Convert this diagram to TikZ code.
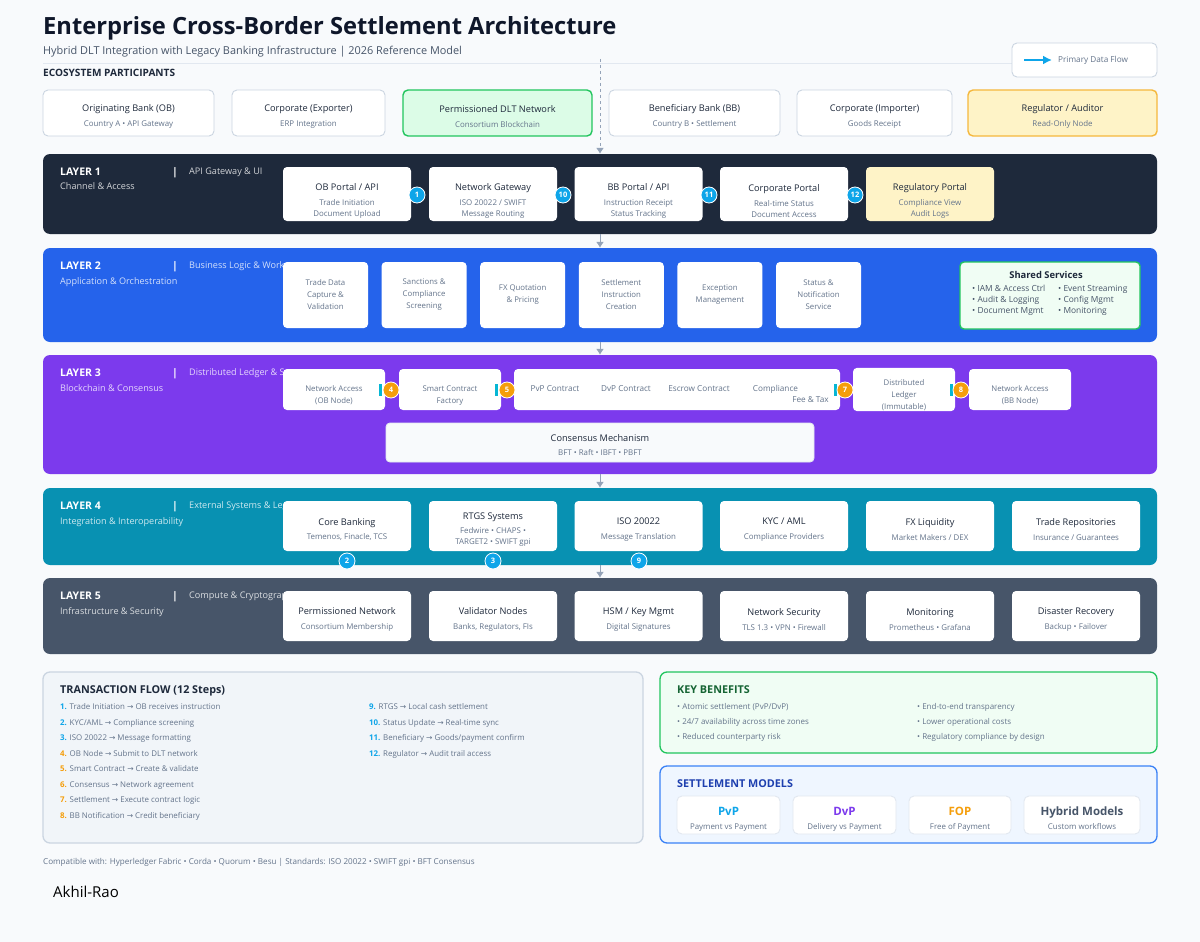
\documentclass[tikz,border=0pt]{standalone}
\usepackage{fontspec}
\setmainfont{Open Sans}
\newfontfamily\arrowfont{DejaVu Sans}
\usetikzlibrary{arrows.meta}

\definecolor{ink}{HTML}{1E293B}
\definecolor{titleink}{HTML}{0F172A}
\definecolor{muted}{HTML}{64748B}
\definecolor{subtle}{HTML}{475569}
\definecolor{pagebg}{HTML}{F8FAFC}
\definecolor{edge}{HTML}{CBD5E1}
\definecolor{edgelight}{HTML}{E2E8F0}
\definecolor{panelfill}{HTML}{F1F5F9}
\definecolor{layerone}{HTML}{1E293B}
\definecolor{layertwo}{HTML}{2563EB}
\definecolor{layerthree}{HTML}{7C3AED}
\definecolor{layerfour}{HTML}{0891B2}
\definecolor{layerfive}{HTML}{475569}
\definecolor{stepblue}{HTML}{0EA5E9}
\definecolor{steporange}{HTML}{F59E0B}
\definecolor{stepcyan}{HTML}{06B6D4}
\definecolor{greenfill}{HTML}{DCFCE7}
\definecolor{greenpale}{HTML}{F0FDF4}
\definecolor{greenedge}{HTML}{22C55E}
\definecolor{greenink}{HTML}{166534}
\definecolor{yellowfill}{HTML}{FEF3C7}
\definecolor{yellowedge}{HTML}{F5B83D}
\definecolor{bluepale}{HTML}{EFF6FF}
\definecolor{blueedge}{HTML}{3B82F6}
\definecolor{blueink}{HTML}{1E40AF}
\definecolor{flowgray}{HTML}{94A3B8}

\tikzstyle{box:participant}=[draw=edge,fill=white,rounded corners=5pt,line width=0.9pt,minimum height=46pt,inner sep=0pt,align=flush center]
\tikzstyle{box:layer}=[rounded corners=7pt,minimum width=1114pt,inner sep=0pt]
\tikzstyle{box:component}=[fill=white,rounded corners=4pt,inner sep=0pt,align=flush center]
\tikzstyle{box:portal}=[box:component,text width=128pt,minimum height=54pt]
\tikzstyle{box:service}=[box:component,text width=85pt,minimum height=66pt]
\tikzstyle{box:ledger}=[box:component,text width=102pt,minimum height=41pt]
\tikzstyle{box:system}=[box:component,text width=128pt,minimum height=50pt]
\tikzstyle{box:model}=[draw=edgelight,fill=white,rounded corners=5pt,line width=0.9pt,minimum height=38pt,inner sep=0pt,align=flush center]
\tikzstyle{box:panel}=[rounded corners=7pt,line width=1.3pt,inner sep=0pt]
\tikzstyle{badge:blue}=[circle,fill=stepblue,draw=white,line width=0.8pt,text=white,minimum size=16pt,inner sep=0pt,font=\fontsize{7.5}{8}\selectfont\bfseries]
\tikzstyle{badge:orange}=[badge:blue,fill=steporange]
\tikzstyle{text:layer}=[anchor=base west,inner sep=0pt,text=white,font=\fontsize{10.5}{12}\selectfont\bfseries]
\tikzstyle{text:layersub}=[anchor=base west,inner sep=0pt,text=white,text opacity=0.8,font=\fontsize{9.1}{10}\selectfont]
\tikzstyle{text:bar}=[anchor=base west,inner sep=0pt,text=white,font=\fontsize{10.5}{12}\selectfont\bfseries]
\tikzstyle{text:contract}=[text=muted,font=\fontsize{8.2}{9}\selectfont]
\tikzstyle{text:paneltitle}=[anchor=base west,inner sep=0pt,font=\fontsize{10.8}{12}\selectfont\bfseries]
\tikzstyle{text:list}=[anchor=north west,align=left,inner sep=0pt,text=muted,font=\fontsize{7.9}{15.5}\selectfont]
\tikzstyle{draw:flow}=[-{Latex[length=6pt,width=8pt]},flowgray,line width=1pt]

\newcommand{\hd}[2][14pt]{{\fontsize{9.2}{11}\selectfont\color{ink}\rule{0pt}{#1}#2\par}\vspace{3.5pt}}
\newcommand{\sm}[1]{{\fontsize{7.9}{11}\selectfont\color{muted}#1\par}}
\newcommand{\tx}[2][0pt]{{\fontsize{7.8}{12}\selectfont\color{muted}\rule{0pt}{#1}#2\par}}
\newcommand{\mh}[2]{{\fontsize{11.5}{13}\selectfont\bfseries\color{#1}\rule{0pt}{16pt}#2\par}\vspace{3pt}}
\newcommand{\stepb}[1]{\textcolor{stepblue}{\bfseries #1.}}
\newcommand{\stepo}[1]{\textcolor{steporange}{\bfseries #1.}}
\newcommand{\flowto}{{\arrowfont\fontsize{7.6}{8}\selectfont →}}

\begin{document}
\begin{tikzpicture}[x=1pt,y=-1pt]
        \fill[pagebg] (0,0) rectangle (1200,942);
        \useasboundingbox (0,0) rectangle (1200,942);

        % Header
        \node[anchor=base west,inner sep=0pt,text=titleink,font=\fontsize{23.7}{26}\selectfont\bfseries] (title) at (43,35) {Enterprise Cross-Border Settlement Architecture};
        \node[anchor=base west,inner sep=0pt,text=subtle,font=\fontsize{10.9}{12}\selectfont] (subtitle) at (43,55) {Hybrid DLT Integration with Legacy Banking Infrastructure | 2026 Reference Model};
        \draw[edgelight,line width=1pt] (43,64) -- (1157,64);
        \node[anchor=base west,inner sep=0pt,text=ink,font=\fontsize{10.1}{11}\selectfont\bfseries] (ecosystem) at (43,77) {ECOSYSTEM PARTICIPANTS};

        % Legend
        \node[draw=edge,fill=white,rounded corners=5pt,line width=0.9pt,minimum width=145pt,minimum height=34pt] (legend) at (1084.5,60) {};
        \coordinate (legend-a) at (1024,60);
        \coordinate (legend-b) at (1052,60);
        \draw[-{Latex[length=9pt,width=9pt]},stepblue,line width=2pt] (legend-a) -- (legend-b);
        \node[anchor=west,inner sep=0pt,text=muted,font=\fontsize{8.2}{9}\selectfont] (legend-text) at (1058,60) {Primary Data Flow};

        % Ecosystem participants (6 nodes)
        \node[box:participant,text width=171pt] (P-1) at (128.5,113) {\hd{Originating Bank (OB)}\sm{Country A • API Gateway}};
        \node[box:participant,text width=153pt] (P-2) at (308.5,113) {\hd{Corporate (Exporter)}\sm{ERP Integration}};
        \node[box:participant,text width=189pt,fill=greenfill,draw=greenedge,line width=1.4pt] (P-3) at (497.5,113) {\hd{Permissioned DLT Network}\sm{Consortium Blockchain}};
        \node[box:participant,text width=171pt] (P-4) at (694.5,113) {\hd{Beneficiary Bank (BB)}\sm{Country B • Settlement}};
        \node[box:participant,text width=155pt] (P-5) at (874.5,113) {\hd{Corporate (Importer)}\sm{Goods Receipt}};
        \node[box:participant,text width=189pt,fill=yellowfill,draw=yellowedge,line width=1.4pt] (P-6) at (1062.5,113) {\hd{Regulator / Auditor}\sm{Read-Only Node}};

        % Layer bands
        \node[box:layer,fill=layerone,minimum height=80pt] (L1) at (600,194) {};
        \node[box:layer,fill=layertwo,minimum height=94pt] (L2) at (600,295) {};
        \node[box:layer,fill=layerthree,minimum height=119pt] (L3) at (600,414.5) {};
        \node[box:layer,fill=layerfour,minimum height=77pt] (L4) at (600,526.5) {};
        \node[box:layer,fill=layerfive,minimum height=76pt] (L5) at (600,616) {};

        % Layer labels
        \node[text:layer] (L1-title) at (60,175) {LAYER 1};
        \node[text:layersub] (L1-sub) at (60,189.5) {Channel \& Access};
        \node[text:bar] (L1-bar) at (172,175) {|};
        \node[text:layersub] (L1-cat) at (189,174.5) {API Gateway \& UI};

        \node[text:layer] (L2-title) at (60,269) {LAYER 2};
        \node[text:layersub] (L2-sub) at (60,284.5) {Application \& Orchestration};
        \node[text:bar] (L2-bar) at (172,269) {|};

        \node[text:layer] (L3-title) at (60,376) {LAYER 3};
        \node[text:layersub] (L3-sub) at (60,391.5) {Blockchain \& Consensus};
        \node[text:bar] (L3-bar) at (172,376) {|};

        \node[text:layer] (L4-title) at (60,509) {LAYER 4};
        \node[text:layersub] (L4-sub) at (60,524.5) {Integration \& Interoperability};
        \node[text:bar] (L4-bar) at (172,509) {|};

        \node[text:layer] (L5-title) at (60,599) {LAYER 5};
        \node[text:layersub] (L5-sub) at (60,614.5) {Infrastructure \& Security};
        \node[text:bar] (L5-bar) at (172,599) {|};

        % Layer categories, cut off by the first component
        \begin{scope}
                \clip (185,240) rectangle (283,660);
                \node[text:layersub] (L2-cat) at (189,268.5) {Business Logic \& Workflow};
                \node[text:layersub] (L3-cat) at (189,375.5) {Distributed Ledger \& Smart Contracts};
                \node[text:layersub] (L4-cat) at (189,508.5) {External Systems \& Legacy};
                \node[text:layersub] (L5-cat) at (189,598.5) {Compute \& Cryptography};
        \end{scope}

        % Layer 1 components (5 nodes)
        \node[box:portal] (L1-1) at (347,194) {\hd[21pt]{OB Portal / API}\sm{Trade Initiation\\Document Upload}};
        \node[box:portal] (L1-2) at (493,194) {\hd[21pt]{Network Gateway}\sm{ISO 20022 / SWIFT\\Message Routing}};
        \node[box:portal] (L1-3) at (638.5,194) {\hd[21pt]{BB Portal / API}\sm{Instruction Receipt\\Status Tracking}};
        \node[box:portal] (L1-4) at (784,194) {\hd[21pt]{Corporate Portal}\sm{Real-time Status\\Document Access}};
        \node[box:portal,fill=yellowfill] (L1-5) at (930,194) {\hd[21pt]{Regulatory Portal}\sm{Compliance View\\Audit Logs}};

        % Layer 2 components (6 nodes + shared services)
        \node[box:service] (L2-1) at (325.5,295) {\tx{Trade Data\\Capture \&\\Validation}};
        \node[box:service] (L2-2) at (424.1,295) {\tx{Sanctions \&\\Compliance\\Screening}};
        \node[box:service] (L2-3) at (522.7,295) {\tx{FX Quotation\\\& Pricing}};
        \node[box:service] (L2-4) at (621.3,295) {\tx{Settlement\\Instruction\\Creation}};
        \node[box:service] (L2-5) at (719.9,295) {\tx{Exception\\Management}};
        \node[box:service] (L2-6) at (818.5,295) {\tx{Status \&\\Notification\\Service}};
        \node[box:component,draw=greenedge,fill=greenpale,line width=1.4pt,minimum width=180pt,minimum height=67pt] (L2-7) at (1050,295.5) {};
        \node[text=ink,font=\fontsize{9.4}{10}\selectfont\bfseries] (L2-7-title) at (1046,275) {Shared Services};
        \node[text:list,text=subtle,font=\fontsize{8.4}{11}\selectfont] (L2-7-left) at (972,285) {• IAM \& Access Ctrl\\• Audit \& Logging\\• Document Mgmt};
        \node[text:list,text=subtle,font=\fontsize{8.4}{11}\selectfont] (L2-7-right) at (1058,285) {• Event Streaming\\• Config Mgmt\\• Monitoring};

        % Layer 3 components
        \node[box:ledger] (L3-1) at (334,389.5) {\tx[18pt]{Network Access\\(OB Node)}};
        \node[box:ledger] (L3-2) at (450,389.5) {\tx[18pt]{Smart Contract\\Factory}};
        \node[box:component,minimum width=326pt,minimum height=41pt] (L3-3) at (677,389.5) {};
        \node[text:contract] (L3-3-pvp) at (555,389) {PvP Contract};
        \node[text:contract] (L3-3-dvp) at (626,389) {DvP Contract};
        \node[text:contract] (L3-3-escrow) at (699,389) {Escrow Contract};
        \node[text:contract] (L3-3-compliance) at (775.5,389) {Compliance};
        \node[text:contract] (L3-3-fee) at (810.5,400) {Fee \& Tax};
        \node[box:ledger] (L3-4) at (904,389.5) {\tx[18pt]{Distributed\\Ledger\\(Immutable)}};
        \node[box:ledger] (L3-5) at (1020,389.5) {\tx[18pt]{Network Access\\(BB Node)}};
        \node[box:component,draw=edgelight,fill=pagebg,line width=0.9pt,text width=428pt,minimum height=39pt] (L3-6) at (600,442.5) {\hd[12pt]{Consensus Mechanism}\sm{BFT • Raft • IBFT • PBFT}};
        \foreach \x in {380,496,835,951}
                \fill[stepcyan] (\x-1.5,384) rectangle (\x+1.5,396);

        % Layer 4 components (6 nodes)
        \node[box:system] (L4-1) at (347,526) {\hd{Core Banking}\sm{Temenos, Finacle, TCS}};
        \node[box:system] (L4-2) at (493,526) {\hd{RTGS Systems}\sm{Fedwire • CHAPS •\\TARGET2 • SWIFT gpi}};
        \node[box:system] (L4-3) at (638.5,526) {\hd{ISO 20022}\sm{Message Translation}};
        \node[box:system] (L4-4) at (784,526) {\hd{KYC / AML}\sm{Compliance Providers}};
        \node[box:system] (L4-5) at (930,526) {\hd{FX Liquidity}\sm{Market Makers / DEX}};
        \node[box:system] (L4-6) at (1076,526) {\hd{Trade Repositories}\sm{Insurance / Guarantees}};

        % Layer 5 components (6 nodes)
        \node[box:system] (L5-1) at (347,616) {\hd{Permissioned Network}\sm{Consortium Membership}};
        \node[box:system] (L5-2) at (493,616) {\hd{Validator Nodes}\sm{Banks, Regulators, FIs}};
        \node[box:system] (L5-3) at (638.5,616) {\hd{HSM / Key Mgmt}\sm{Digital Signatures}};
        \node[box:system] (L5-4) at (784,616) {\hd{Network Security}\sm{TLS 1.3 • VPN • Firewall}};
        \node[box:system] (L5-5) at (930,616) {\hd{Monitoring}\sm{Prometheus • Grafana}};
        \node[box:system] (L5-6) at (1076,616) {\hd{Disaster Recovery}\sm{Backup • Failover}};

        % Step badges
        \node[badge:blue] (S1) at (417,195) {1};
        \node[badge:blue] (S2) at (347,561) {2};
        \node[badge:blue] (S3) at (493,561) {3};
        \node[badge:orange] (S4) at (391,390) {4};
        \node[badge:orange] (S5) at (507,390) {5};
        \node[badge:orange] (S7) at (845,390) {7};
        \node[badge:orange] (S8) at (961,390) {8};
        \node[badge:blue] (S9) at (639,561) {9};
        \node[badge:blue] (S10) at (563,195) {10};
        \node[badge:blue] (S11) at (709,195) {11};
        \node[badge:blue] (S12) at (855,195) {12};

        % Primary data flow
        \coordinate (dlt-top) at (600,59);
        \draw[draw:flow,dashed] (dlt-top) -- (L1.north);
        \foreach \i/\j in {1/2,2/3,3/4,4/5}
                \draw[draw:flow] (L\i.south) -- (L\j.north);

        % Transaction flow panel
        \node[box:panel,draw=edge,fill=panelfill,minimum width=600pt,minimum height=171pt] (flow) at (343,757.5) {};
        \node[text:paneltitle,text=ink] (flow-title) at (60,693) {TRANSACTION FLOW (12 Steps)};
        \node[text:list] (flow-left) at (60,703.5) {\stepb{1} Trade Initiation \flowto{} OB receives instruction\\
                \stepb{2} KYC/AML \flowto{} Compliance screening\\
                \stepb{3} ISO 20022 \flowto{} Message formatting\\
                \stepo{4} OB Node \flowto{} Submit to DLT network\\
                \stepo{5} Smart Contract \flowto{} Create \& validate\\
                \stepo{6} Consensus \flowto{} Network agreement\\
                \stepo{7} Settlement \flowto{} Execute contract logic\\
                \stepo{8} BB Notification \flowto{} Credit beneficiary};
        \node[text:list] (flow-right) at (369,703.5) {\stepb{9} RTGS \flowto{} Local cash settlement\\
                \stepb{10} Status Update \flowto{} Real-time sync\\
                \stepb{11} Beneficiary \flowto{} Goods/payment confirm\\
                \stepb{12} Regulator \flowto{} Audit trail access};

        % Key benefits panel
        \node[box:panel,draw=greenedge,fill=greenpale,minimum width=497pt,minimum height=81pt] (benefits) at (908.5,712.5) {};
        \node[text:paneltitle,text=greenink] (benefits-title) at (677,693) {KEY BENEFITS};
        \node[text:list,font=\fontsize{8}{15}\selectfont] (benefits-left) at (677,703.5) {• Atomic settlement (PvP/DvP)\\• 24/7 availability across time zones\\• Reduced counterparty risk};
        \node[text:list,font=\fontsize{8}{15}\selectfont] (benefits-right) at (917,703.5) {• End-to-end transparency\\• Lower operational costs\\• Regulatory compliance by design};

        % Settlement models panel
        \node[box:panel,draw=blueedge,fill=bluepale,minimum width=497pt,minimum height=77pt] (models) at (908.5,804.5) {};
        \node[text:paneltitle,text=blueink] (models-title) at (677,787) {SETTLEMENT MODELS};
        \node[box:model,text width=103pt] (M-1) at (728.5,815) {\mh{stepblue}{PvP}\sm{Payment vs Payment}};
        \node[box:model,text width=103pt] (M-2) at (844.5,815) {\mh{layerthree}{DvP}\sm{Delivery vs Payment}};
        \node[box:model,text width=102pt] (M-3) at (960,815) {\mh{steporange}{FOP}\sm{Free of Payment}};
        \node[box:model,text width=116pt] (M-4) at (1082,815) {\mh{subtle}{Hybrid Models}\sm{Custom workflows}};

        % Footer
        \node[anchor=base west,inner sep=0pt,text=muted,font=\fontsize{8.1}{9}\selectfont] (footer) at (43,864) {Compatible with: Hyperledger Fabric • Corda • Quorum • Besu | Standards: ISO 20022 • SWIFT gpi • BFT Consensus};
        \node[anchor=base west,inner sep=0pt,text=black,font=\fontsize{15}{17}\selectfont] (author) at (53,897) {Akhil-Rao};
\end{tikzpicture}
\end{document}
